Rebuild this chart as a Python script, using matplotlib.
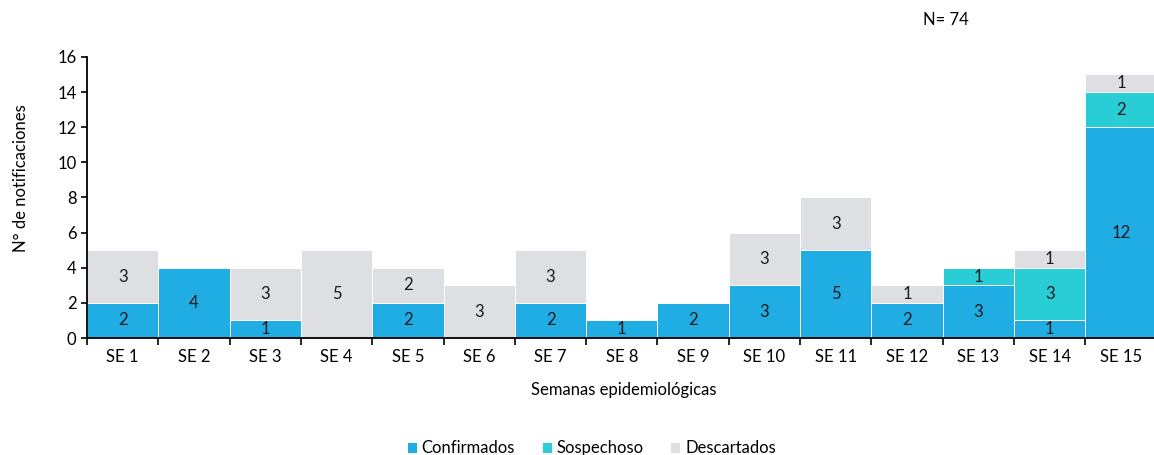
import numpy as np
import matplotlib.pyplot as plt

plt.rcParams['font.family'] = ['Lato', 'DejaVu Sans']

semanas = ['SE 1', 'SE 2', 'SE 3', 'SE 4', 'SE 5', 'SE 6', 'SE 7', 'SE 8',
           'SE 9', 'SE 10', 'SE 11', 'SE 12', 'SE 13', 'SE 14', 'SE 15']
confirmados = [2, 4, 1, 0, 2, 0, 2, 1, 2, 3, 5, 2, 3, 1, 12]
sospechoso = [0, 0, 0, 0, 0, 0, 0, 0, 0, 0, 0, 0, 1, 3, 2]
descartados = [3, 0, 3, 5, 2, 3, 3, 0, 0, 3, 3, 1, 0, 1, 1]

series = [('Confirmados', confirmados, '#1fade3'),
          ('Sospechoso', sospechoso, '#29cdd6'),
          ('Descartados', descartados, '#dedfe2')]

fig = plt.figure(figsize=(11.54, 4.55), dpi=100)
ax = fig.add_axes([0.0754, 0.257, 0.93, 0.618])

x = np.arange(len(semanas))
bottom = np.zeros(len(semanas))
for name, vals, color in series:
    vals = np.array(vals)
    ax.bar(x, vals, width=1.0, bottom=bottom, color=color,
           edgecolor='white', linewidth=0.7, label=name)
    for xi, b, v in zip(x, bottom, vals):
        if v > 0:
            ax.text(xi, b + v / 2, str(v), ha='center', va='center',
                    fontsize=12, color='#1a1a1a')
    bottom = bottom + vals

ax.set_xlim(-0.5, len(semanas) - 0.45)
ax.set_ylim(0, 16)
ax.set_yticks(range(0, 17, 2))
ax.set_xticks(np.arange(-0.5, len(semanas), 1.0))
ax.set_xticklabels([])
ax.set_xticks(x, minor=True)
ax.set_xticklabels(semanas, minor=True)
ax.tick_params(axis='x', which='major', length=5, width=1.2, color='black')
ax.tick_params(axis='x', which='minor', length=0, pad=8, labelsize=12)
ax.tick_params(axis='y', length=4, width=1.2, labelsize=12)

for s in ['top', 'right']:
    ax.spines[s].set_visible(False)
for s in ['left', 'bottom']:
    ax.spines[s].set_linewidth(1.3)

ax.set_xlabel('Semanas epidemiológicas', fontsize=12, labelpad=12)
ax.set_ylabel('N° de notificaciones', fontsize=12)
ax.yaxis.set_label_coords(-0.054, 0.57)

fig.text(0.82, 0.955, 'N= 74', ha='center', va='center', fontsize=12)

ax.legend(loc='upper center', bbox_to_anchor=(0.47, -0.31), ncol=3,
          frameon=False, fontsize=12, handlelength=0.6, handleheight=0.6,
          columnspacing=1.6, handletextpad=0.3)

fig.savefig('out.png', dpi=100)
